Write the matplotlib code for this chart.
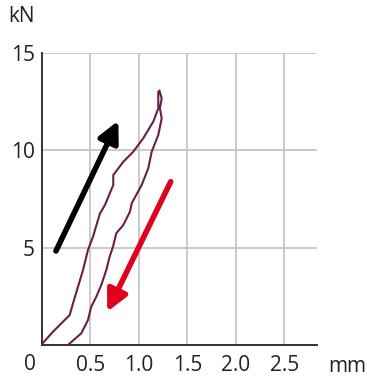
import matplotlib
matplotlib.use("Agg")
import matplotlib.pyplot as plt

plt.rcParams['font.family'] = ['Open Sans', 'DejaVu Sans']

# Loading branch (displacement mm, force kN)
load_x = [0.0, 0.007, 0.113, 0.199, 0.286, 0.320, 0.371, 0.423, 0.474, 0.526, 0.577,
          0.598, 0.649, 0.735, 0.735, 0.838, 0.941, 1.044, 1.147, 1.199, 1.199, 1.211]
load_y = [0.0, 0.09, 0.68, 1.11, 1.54, 2.14, 2.99, 3.85, 4.88, 5.56, 6.42,
          6.76, 7.19, 8.22, 8.73, 9.41, 9.93, 10.62, 11.47, 12.16, 13.01, 13.07]
# Unloading branch
unload_x = [1.211, 1.234, 1.216, 1.234, 1.199, 1.131, 1.096, 1.028, 0.925, 0.907, 0.838,
            0.766, 0.732, 0.698, 0.663, 0.611, 0.560, 0.508, 0.474, 0.405, 0.268]
unload_y = [13.07, 12.67, 12.16, 11.64, 10.79, 9.93, 9.08, 8.22, 7.28, 6.85, 6.16,
            5.74, 5.05, 4.54, 3.85, 3.08, 2.48, 1.97, 1.28, 0.60, 0.0]

x_ticks = [0.5, 1.0, 1.5, 2.0, 2.5]
x_labels = ["0.5", "1.0", "1.5", "2.0", "2.5"]
y_ticks = [5, 10, 15]
y_labels = ["5", "10", "15"]

# Arrows: (tail, tip)
load_arrow = ((0.144, 4.83), (0.787, 11.52))
unload_arrow = ((1.327, 8.39), (0.673, 1.71))

fig = plt.figure(figsize=(3.67, 3.80), dpi=100)
ax = fig.add_axes([0.1144, 0.0921, 0.7493, 0.7684])
ax.set_xlim(0, 2.835)
ax.set_ylim(0, 15)

for v in x_ticks:
    ax.axvline(v, color='#c6c6c6', lw=1.3, zorder=0)
for v in y_ticks:
    ax.axhline(v, color='#c6c6c6', lw=1.3, zorder=0)

ax.plot(load_x + unload_x, load_y + unload_y, color='#6a1f47', lw=1.5,
        solid_joinstyle='round', zorder=3)

ax.annotate('', xy=load_arrow[1], xytext=load_arrow[0],
            arrowprops=dict(arrowstyle='-|>,head_length=0.9,head_width=0.45',
                            mutation_scale=14, lw=4, color='black', shrinkA=0, shrinkB=0),
            zorder=4)
ax.annotate('', xy=unload_arrow[1], xytext=unload_arrow[0],
            arrowprops=dict(arrowstyle='-|>,head_length=0.9,head_width=0.45',
                            mutation_scale=14, lw=4, color='#e0001b', shrinkA=0, shrinkB=0),
            zorder=4)

ax.set_xticks(x_ticks)
ax.set_xticklabels(x_labels)
ax.set_yticks(y_ticks)
ax.set_yticklabels(y_labels)
ax.tick_params(length=0, labelsize=15, colors='#222222', pad=5)
ax.tick_params(axis='x', pad=7)

for s in ['top', 'right']:
    ax.spines[s].set_visible(False)
for s in ['left', 'bottom']:
    ax.spines[s].set_color('#333333')
    ax.spines[s].set_linewidth(1.4)

fig.text(30/367, 1 - 365/380, "0", ha='center', va='center', fontsize=15, color='#222222')
fig.text(347/367, 1 - 366/380, "mm", ha='center', va='center', fontsize=15, color='#222222')
fig.text(22/367, 1 - 17/380, "kN", ha='center', va='center', fontsize=15, color='#222222')

fig.savefig('out.png', dpi=100)
